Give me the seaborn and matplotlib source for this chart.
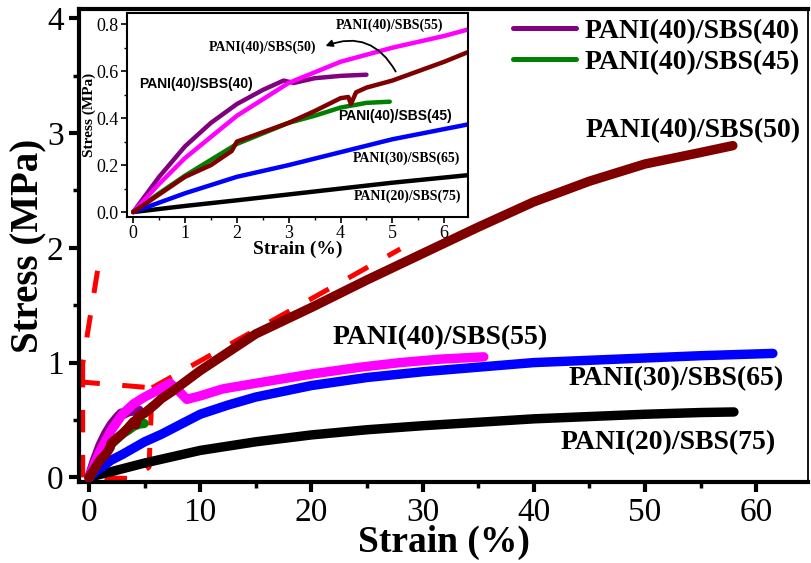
import numpy as np
import pandas as pd
import seaborn as sns
import matplotlib.pyplot as plt
from matplotlib.ticker import MultipleLocator
from matplotlib.lines import Line2D

# ---- data (strain %, stress MPa) ----
s20_strain = [0, 0.5, 1, 2, 3, 5, 7.5, 10, 15, 20, 25, 30, 35, 40, 45, 50, 55, 58]
s20_stress = [0, 0.013, 0.026, 0.05, 0.075, 0.125, 0.18, 0.235, 0.31, 0.37, 0.415, 0.45, 0.48, 0.51, 0.53, 0.55, 0.565, 0.57]

s30_strain = [0, 1, 2, 3, 4, 5, 6.5, 8, 10, 12.5, 15, 20, 25, 30, 35, 40, 45, 50, 55, 61.5]
s30_stress = [0, 0.08, 0.15, 0.2, 0.255, 0.31, 0.375, 0.45, 0.55, 0.63, 0.7, 0.8, 0.87, 0.92, 0.96, 1.0, 1.02, 1.04, 1.06, 1.08]

s55_strain = [0, 0.5, 1, 2, 3, 4, 5, 6, 6.5, 7.3, 8.0, 8.8, 10, 12, 15, 20, 24.4, 28, 31.6, 35.5]
s55_stress = [0, 0.12, 0.23, 0.41, 0.55, 0.64, 0.70, 0.75, 0.78, 0.82, 0.76, 0.68, 0.71, 0.77, 0.82, 0.9, 0.96, 1.0, 1.03, 1.05]

s40_strain = [0, 0.5, 1, 1.5, 2, 2.5, 2.9, 3.1, 3.5, 4, 4.5]
s40_stress = [0, 0.15, 0.28, 0.38, 0.46, 0.52, 0.56, 0.55, 0.57, 0.58, 0.585]

s45_strain = [0, 0.5, 1, 2, 3, 3.5, 4, 4.5, 4.95]
s45_stress = [0, 0.08, 0.155, 0.29, 0.38, 0.41, 0.445, 0.465, 0.47]

s50_strain = [0, 0.5, 1, 1.5, 1.9, 2.0, 2.5, 3, 3.5, 4, 4.15, 4.2, 4.3, 4.5, 5, 5.5, 6, 6.5,
              7.5, 10, 15, 20, 25, 30, 35, 40, 45, 50, 55, 57.9]
s50_stress = [0, 0.075, 0.15, 0.2, 0.26, 0.3, 0.34, 0.38, 0.43, 0.485, 0.49, 0.46, 0.51, 0.53, 0.56, 0.6, 0.64, 0.685,
              0.75, 0.93, 1.25, 1.48, 1.72, 1.95, 2.18, 2.40, 2.58, 2.73, 2.83, 2.89]

# red dashed zoom-box guide lines
box_x = [-0.57, -0.57, 5.67, 5.4, 4.0, -0.57]
box_y = [0, 0.83, 0.78, 0.09, -0.01, 0]
guide1_x = [-0.57, -0.57, 0.95]
guide1_y = [0.83, 0.99, 1.91]
guide2_x = [5.67, 28]
guide2_y = [0.78, 1.99]

series = [
    ("PANI(20)/SBS(75)", s20_strain, s20_stress, "black"),
    ("PANI(30)/SBS(65)", s30_strain, s30_stress, "#0000ff"),
    ("PANI(40)/SBS(45)", s45_strain, s45_stress, "#008000"),
    ("PANI(40)/SBS(40)", s40_strain, s40_stress, "#800080"),
    ("PANI(40)/SBS(55)", s55_strain, s55_stress, "#ff00ff"),
    ("PANI(40)/SBS(50)", s50_strain, s50_stress, "#800000"),
]

sns.set_theme(style="ticks", rc={'axes.edgecolor': 'black', 'xtick.color': 'black',
                                 'ytick.color': 'black', 'text.color': 'black',
                                 'axes.labelcolor': 'black'})
plt.rcParams['font.family'] = ['Liberation Serif', 'DejaVu Serif']

fig = plt.figure(figsize=(8.11, 5.63), dpi=100)
ax = fig.add_axes([0.0974, 0.1439, 0.8989, 0.8401])

dash = (4.5, 4.5)
for gx, gy in [(box_x, box_y), (guide1_x, guide1_y), (guide2_x, guide2_y)]:
    sns.lineplot(x=gx, y=gy, ax=ax, sort=False, estimator=None, color="red",
                 linewidth=3.6, zorder=1)
    ax.lines[-1].set_dashes(dash)

for name, xs, ys, col in series:
    sns.lineplot(x=xs, y=ys, ax=ax, sort=False, estimator=None, color=col,
                 linewidth=6.8, zorder=3)

ax.set_xlim(-0.9, 64.66)
ax.set_ylim(-0.04, 4.08)
ax.xaxis.set_major_locator(MultipleLocator(10))
ax.xaxis.set_minor_locator(MultipleLocator(5))
ax.yaxis.set_major_locator(MultipleLocator(1))
ax.yaxis.set_minor_locator(MultipleLocator(0.5))
ax.tick_params(which='major', direction='out', length=7, width=3, labelsize=24, pad=4)
ax.tick_params(which='minor', direction='out', length=4, width=2.5)
for side in ['left', 'bottom', 'top']:
    ax.spines[side].set_linewidth(3)
ax.spines['right'].set_linewidth(1.3)
ax.set_xlabel("Strain (%)", fontsize=27, fontweight='bold', labelpad=-2)
ax.set_ylabel("Stress (MPa)", fontsize=28, fontweight='bold', labelpad=0)

txt = dict(fontsize=20, fontweight='bold', ha='center', va='center')
ax.text(54.3, 3.02, "PANI(40)/SBS(50)", **txt)
ax.text(31.6, 1.22, "PANI(40)/SBS(55)", **txt)
ax.text(52.8, 0.86, "PANI(30)/SBS(65)", **txt)
ax.text(52.1, 0.30, "PANI(20)/SBS(75)", **txt)

handles = [Line2D([], [], color="#800080", linewidth=3.6),
           Line2D([], [], color="#008000", linewidth=3.6)]
leg = ax.legend(handles, ["PANI(40)/SBS(40)", "PANI(40)/SBS(45)"], loc='upper right',
                bbox_to_anchor=(1.012, 1.015), frameon=False, handlelength=2.3,
                handletextpad=0.3, labelspacing=0.2, borderaxespad=0.2,
                prop={'family': 'Liberation Serif', 'weight': 'bold', 'size': 20})

# ---- inset ----
ins = fig.add_axes([0.1566, 0.6146, 0.4205, 0.3624])
ins.set_facecolor('white')
for name, xs, ys, col in series:
    sns.lineplot(x=xs, y=ys, ax=ins, sort=False, estimator=None, color=col,
                 linewidth=3.2)
ins.set_xlim(-0.12, 6.46)
ins.set_ylim(-0.021, 0.848)
ins.xaxis.set_major_locator(MultipleLocator(1))
ins.xaxis.set_minor_locator(MultipleLocator(0.5))
ins.yaxis.set_major_locator(MultipleLocator(0.2))
ins.yaxis.set_minor_locator(MultipleLocator(0.1))
ins.yaxis.set_major_formatter(plt.FormatStrFormatter('%.1f'))
ins.tick_params(which='major', direction='out', length=4, width=1.2, labelsize=13, pad=2)
ins.tick_params(which='minor', direction='out', length=2.5, width=1)
for side in ins.spines:
    ins.spines[side].set_linewidth(1.5)
ins.set_xlabel("Strain (%)", fontsize=14, fontweight='bold', labelpad=-1)
ins.set_ylabel("Stress (MPa)", fontsize=11, fontweight='bold', labelpad=0)

serif = dict(fontsize=10, fontweight='bold', ha='center', va='center')
sans = dict(fontsize=10, fontweight='bold', ha='center', va='center', family='Liberation Sans')
ins.text(4.94, 0.797, "PANI(40)/SBS(55)", **serif)
ins.text(2.49, 0.70, "PANI(40)/SBS(50)", **serif)
ins.text(1.21, 0.546, "PANI(40)/SBS(40)", **sans)
ins.text(5.05, 0.41, "PANI(40)/SBS(45)", **sans)
ins.text(5.27, 0.23, "PANI(30)/SBS(65)", **serif)
ins.text(5.30, 0.068, "PANI(20)/SBS(75)", **serif)
ins.annotate("", xy=(3.66, 0.703), xytext=(5.09, 0.588),
             arrowprops=dict(arrowstyle='-|>', color='black', lw=1.3,
                             connectionstyle='arc3,rad=0.45', mutation_scale=10))

fig.savefig("out.png", dpi=100)
